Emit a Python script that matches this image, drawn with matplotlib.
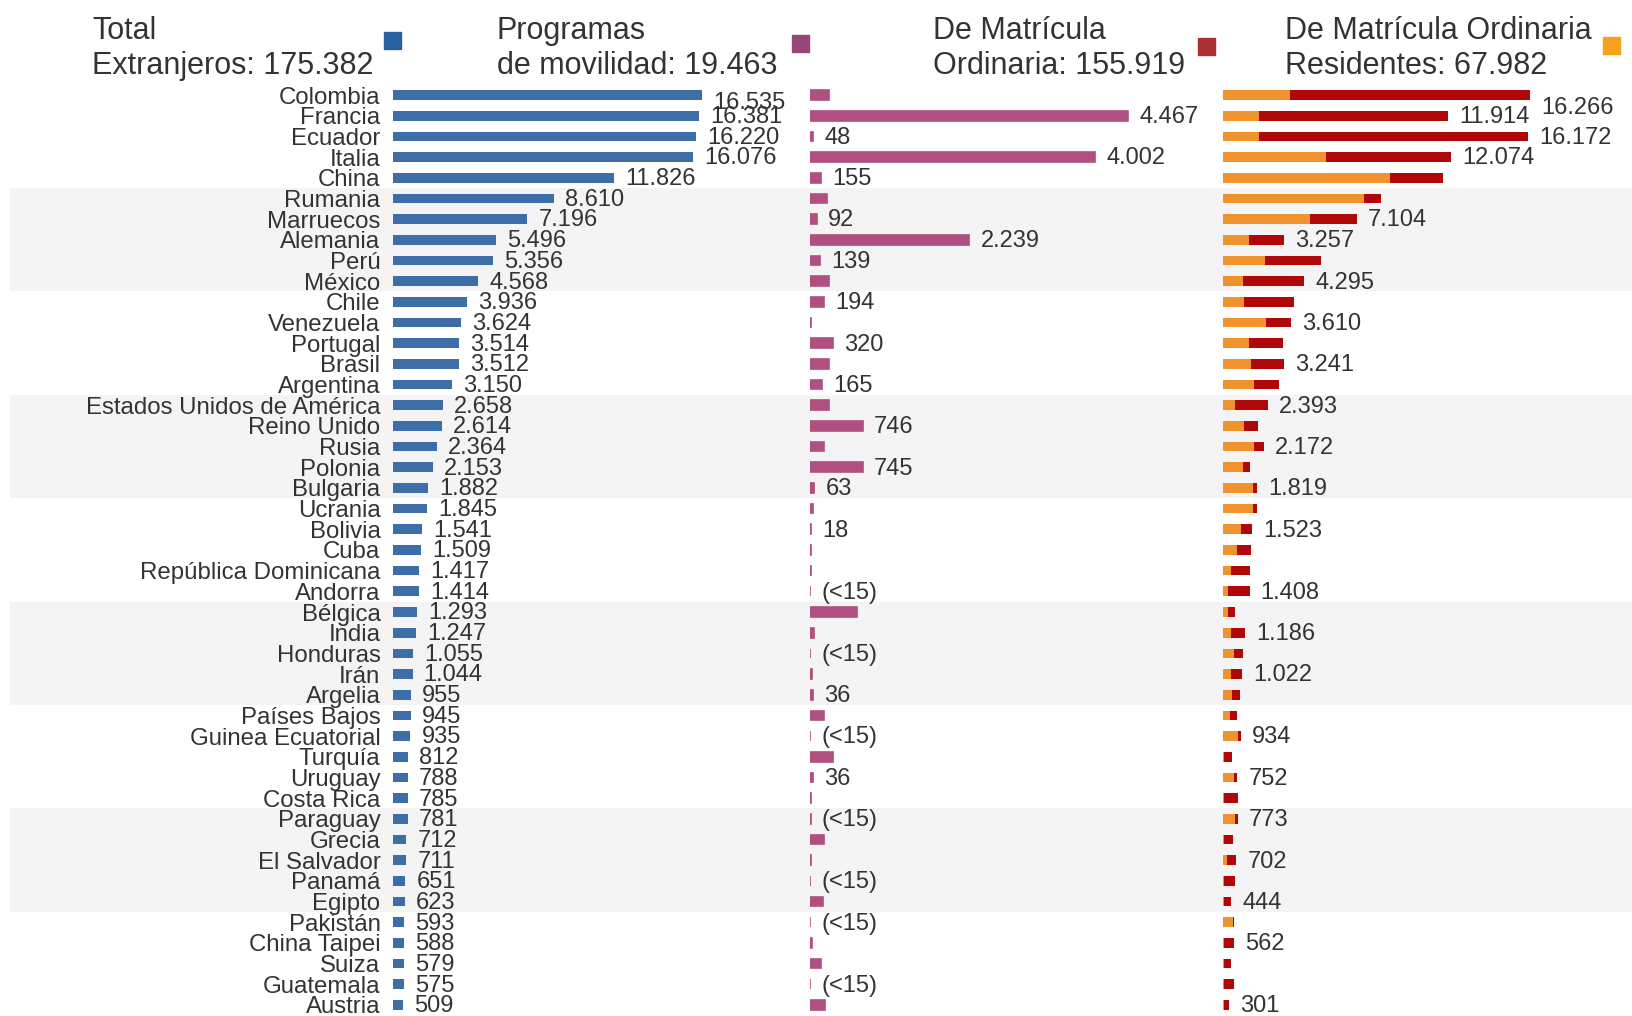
#Extranjeros matriculados por pais: total, movilidad y matricula ordinaria
import matplotlib
matplotlib.use('Agg')
import matplotlib.pyplot as plt
from matplotlib.patches import Rectangle

paises = ["Colombia","Francia","Ecuador","Italia","China","Rumania","Marruecos","Alemania",
          "Perú","México","Chile","Venezuela","Portugal","Brasil","Argentina",
          "Estados Unidos de América","Reino Unido","Rusia","Polonia","Bulgaria","Ucrania",
          "Bolivia","Cuba","República Dominicana","Andorra","Bélgica","India","Honduras",
          "Irán","Argelia","Países Bajos","Guinea Ecuatorial","Turquía","Uruguay",
          "Costa Rica","Paraguay","Grecia","El Salvador","Panamá","Egipto","Pakistán",
          "China Taipei","Suiza","Guatemala","Austria"]
total = [16535,16381,16220,16076,11826,8610,7196,5496,5356,4568,3936,3624,3514,3512,3150,
         2658,2614,2364,2153,1882,1845,1541,1509,1417,1414,1293,1247,1055,1044,955,
         945,935,812,788,785,781,712,711,651,623,593,588,579,575,509]
movilidad = [269,4467,48,4002,155,240,92,2239,139,273,194,14,320,271,165,
             265,746,192,745,63,45,18,10,8,6,665,61,5,22,36,
             191,1,328,36,8,8,191,9,5,179,5,26,153,5,208]
ordinaria = [16266,11914,16172,12074,11671,8370,7104,3257,5217,4295,3742,3610,3194,3241,2985,
             2393,1868,2172,1408,1819,1800,1523,1499,1409,1408,628,1186,1050,1022,919,
             754,934,484,752,777,773,521,702,646,444,588,562,426,570,301]
residentes = [3545,1930,1930,5475,8845,7490,4610,1355,2220,1065,1095,2305,1355,1470,1640,
              660,1095,1640,1065,1585,1585,950,720,430,290,290,430,575,430,490,
              375,780,30,575,40,660,40,200,50,60,520,40,30,50,60]
# filas que llevan etiqueta en los paneles 2 y 3
mov_rows = [1,2,3,4,6,7,8,10,12,14,16,18,19,21,24,27,29,31,33,35,38,40,43]
ord_rows = [0,1,2,3,6,7,9,11,13,15,17,19,21,24,26,28,31,33,35,37,39,41,44]
titulos = [("Total", "Extranjeros: 175.382"),
           ("Programas", "de movilidad: 19.463"),
           ("De Matrícula", "Ordinaria: 155.919"),
           ("De Matrícula Ordinaria", "Residentes: 67.982")]

W, H = 1633, 1016
TXT = '#333333'
plt.rcParams['font.family'] = ['Liberation Sans', 'DejaVu Sans']

def fmt(v):
    if v < 15: return "(<15)"
    return "{:,}".format(v).replace(",", ".")

fig = plt.figure(figsize=(W/100., H/100.), dpi=100)
fig.patch.set_facecolor('white')

n = len(paises)
top, bot = 85, 1016
row0, step = 95, 20.68
ylim = ((bot-row0)/step, (top-row0)/step)

def new_axes(x0, x1):
    return fig.add_axes([x0/W, 1-bot/H, (x1-x0)/W, (bot-top)/H])

#background bands every 5 rows
bg = new_axes(10, W)
bg.set_ylim(*ylim)
bg.set_xlim(0, 1)
for k in range(5, n, 10):
    bg.axhspan(k-0.5, k+4.5, color='#f4f4f4', lw=0)
bg.axis('off')

def setup(ax, x0, x1, scale):
    ax.set_xlim(0, (x1-x0)/scale)
    ax.set_ylim(*ylim)
    ax.patch.set_alpha(0)
    for s in ax.spines.values(): s.set_visible(False)
    ax.set_xticks([])
    ax.tick_params(axis='y', length=0)

def label(ax, x, i, txt, dy=0):
    ax.annotate(txt, xy=(x, i), xytext=(8, dy-1), textcoords='offset points',
                va='center', ha='left', fontsize=17, color=TXT, annotation_clip=False)

bh = 0.47
rows = list(range(n))

#panel 1: total
ax1 = new_axes(393, 790)
setup(ax1, 393, 790, 0.01869)
ax1.barh(rows, total, height=bh, color='#3d6ea8', lw=0)
ax1.set_yticks(rows)
ax1.set_yticklabels(paises, fontsize=17.3, color=TXT)
ax1.tick_params(axis='y', pad=9)
for i, v in enumerate(total):
    label(ax1, v, i, fmt(v), -5 if i == 0 else 0)

#panel 2: movilidad
ax2 = new_axes(810, 1210)
setup(ax2, 810, 1210, 0.0712)
ax2.set_yticks([])
ax2.barh(rows, movilidad, height=bh, color='#b04f80', edgecolor='#b04f80', lw=1.2)
for i in mov_rows:
    label(ax2, movilidad[i], i, fmt(movilidad[i]))

#panel 3: ordinaria, residentes + resto
ax3 = new_axes(1223, W)
setup(ax3, 1223, W, 0.01887)
ax3.set_yticks([])
resto = [o - r for o, r in zip(ordinaria, residentes)]
ax3.barh(rows, residentes, height=bh, color='#f0922e', lw=0)
ax3.barh(rows, resto, left=residentes, height=bh, color='#b00808', lw=0)
for i in ord_rows:
    label(ax3, ordinaria[i], i, fmt(ordinaria[i]), -8 if i == 0 else 0)

#header with legend squares
tx = [92, 497, 933, 1285]
sq = [(384, 32, '#2561a0'), (792, 35, '#984679'), (1198, 38, '#a83030'), (1603, 37, '#f5a31c')]
for (l1, l2), x, (sx, sy, c) in zip(titulos, tx, sq):
    fig.text(x/W, 1-39/H, l1, fontsize=22, color=TXT, va='baseline')
    fig.text(x/W, 1-74/H, l2, fontsize=22, color=TXT, va='baseline')
    fig.add_artist(Rectangle((sx/W, 1-(sy+17)/H), 17./W, 17./H, color=c,
                             transform=fig.transFigure))

plt.savefig('out.png', dpi=100)
